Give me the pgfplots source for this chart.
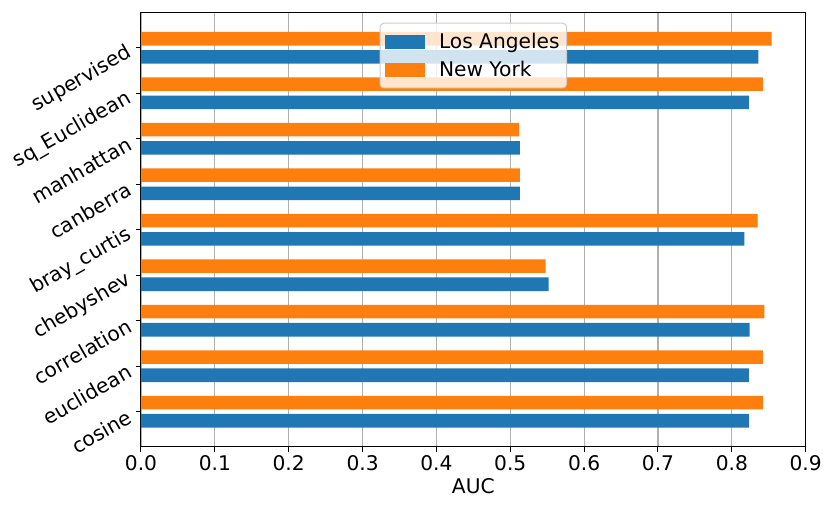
\documentclass[border=0pt]{standalone}
\usepackage{pgfplots}
\pgfplotsset{compat=1.18}
\usepackage{fontspec}
\setmainfont{DejaVu Sans}
\definecolor{c0}{HTML}{1F77B4}
\definecolor{c1}{HTML}{FF7F0E}
\definecolor{gridc}{HTML}{B0B0B0}
\definecolor{legc}{HTML}{CCCCCC}
\begin{document}
\begin{tikzpicture}
\begin{axis}[
  scale only axis,
  width=664.7pt, height=434.4pt,
  xmin=0, xmax=0.9,
  ymin=-0.77, ymax=8.78,
  xbar,
  bar width=0.3,
  xtick={0,0.1,...,0.9},
  ytick={0,...,8},
  yticklabels={cosine,euclidean,correlation,chebyshev,bray\_curtis,canberra,manhattan,sq\_Euclidean,supervised},
  /pgf/number format/assume math mode=true,
  xticklabel style={/pgf/number format/.cd,fixed,fixed zerofill,precision=1},
  tick label style={font=\fontsize{20.2}{24}\selectfont},
  yticklabel style={rotate=30, anchor=east, xshift=-4pt},
  xlabel={AUC},
  xlabel style={font=\fontsize{20.2}{24}\selectfont, yshift=-1pt},
  tick pos=left,
  tick align=outside,
  major tick length=5pt,
  tick style={black, line width=1pt},
  axis line style={line width=1pt},
  xmajorgrids,
  grid style={gridc, line width=1.1pt},
  legend style={at={(0.5,0.976)}, anchor=north, draw=legc, line width=1pt, rounded corners=4pt, fill=white, fill opacity=0.8, text opacity=1, draw opacity=1, font=\fontsize{20.2}{24}\selectfont, inner xsep=5pt, inner ysep=8pt, row sep=7pt, cells={anchor=west},
    /tikz/every odd column/.append style={column sep=12pt}},
  legend image code/.code={\fill[#1, sharp corners, fill opacity=1] (0pt,-7pt) rectangle (40pt,7pt);},
  legend cell align=left,
]
\addplot[fill=c0, draw=none, bar shift=-0.2] coordinates {
 (0.823,0) (0.823,1) (0.824,2) (0.552,3) (0.817,4) (0.513,5) (0.513,6) (0.823,7) (0.836,8)};
\addlegendentry{Los Angeles}
\addplot[fill=c1, draw=none, bar shift=0.2] coordinates {
 (0.842,0) (0.842,1) (0.844,2) (0.548,3) (0.835,4) (0.513,5) (0.512,6) (0.842,7) (0.854,8)};
\addlegendentry{New York}
\end{axis}
\pgfresetboundingbox
\path[use as bounding box] (-141pt,-60.3pt) rectangle (689pt,446.7pt);
\end{tikzpicture}
\end{document}
